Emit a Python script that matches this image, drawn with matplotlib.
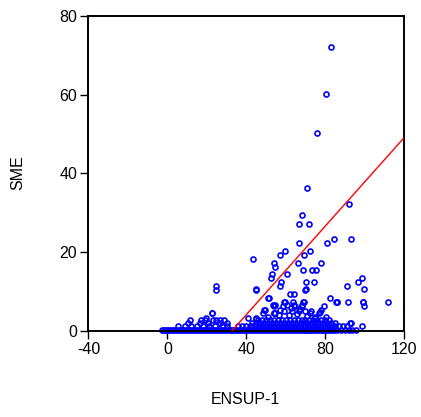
import numpy as np
import matplotlib
matplotlib.use("Agg")
import matplotlib.pyplot as plt

plt.rcParams['font.family'] = ['Liberation Sans', 'DejaVu Sans']
plt.rcParams['axes.unicode_minus'] = False

# ---- points (ENSUP-1, SME) ----
# isolated points, upper part of the cloud
ensup_hi = [82.7, 80.4, 75.9, 71.0, 92.3, 68.0, 66.8, 72.0, 66.9, 81.1, 84.4, 93.3,
            59.6, 57.1, 69.1, 72.5, 43.2, 53.8, 54.8, 66.1, 77.8, 52.9, 52.4, 60.7,
            68.6, 73.5, 75.4, 57.8, 57.3, 70.5, 74.5, 91.1, 96.4, 98.7, 44.8, 70.2,
            99.4, 24.8, 24.8, 44.8, 62.0, 64.2, 70.0]
sme_hi = [72.1, 60.1, 50.2, 36.3, 32.2, 29.4, 27.3, 27.3, 22.4, 22.4, 23.4, 23.4,
          20.4, 19.4, 19.4, 20.4, 18.4, 17.4, 16.3, 17.4, 17.4, 14.4, 13.5, 14.4,
          15.5, 15.5, 15.5, 12.5, 11.4, 12.5, 12.5, 11.4, 12.5, 13.5, 10.7, 10.7,
          10.7, 11.4, 10.4, 10.4, 9.4, 9.4, 10.4]

# middle part (roughly 3 to 9)
ensup_mid = [111.8, 99.2, 91.6, 85.9, 82.3, 86.1, 98.9, 99.7, 85.7, 51.0, 51.3, 40.9,
             44.8, 22.7, 22.4, 48.5, 49.3, 53.6, 54.4, 54.0, 54.0, 59.5, 63.7, 68.8,
             58.6, 64.6, 68.4, 79.4, 78.1, 76.8, 72.2, 74.7, 54.3, 59.0, 60.6, 64.0,
             68.2, 69.0, 49.0, 53.8, 59.1, 63.3, 66.6, 70.0, 19.8, 45.1, 51.0, 56.5,
             61.5, 65.5, 71.0, 75.0, 80.5, 62.5, 57.0, 67.0, 73.0, 77.5]
sme_mid = [7.4, 7.4, 7.4, 7.4, 8.5, 7.3, 7.4, 6.4, 7.3, 8.5, 8.5, 3.4,
           3.4, 4.5, 4.5, 4.5, 5.4, 6.6, 4.5, 6.4, 4.5, 7.3, 7.3, 7.3,
           6.3, 6.3, 6.3, 6.3, 5.3, 4.5, 4.5, 3.6, 6.6, 7.4, 6.6, 6.6,
           6.6, 7.4, 5.3, 4.5, 5.2, 5.2, 5.2, 5.2, 3.2, 3.0, 3.7, 4.2,
           4.0, 4.4, 3.8, 3.4, 3.6, 5.8, 5.4, 5.6, 5.0, 4.8]

# dense band near zero
ensup_low = [-2.6, -1.5, -0.5, 0.5, 1.5, 2.5, 3.5, 4.5, 5.5, 6.5, 7.5, 8.5, 9.5, 10.5,
             11.5, 12.5, 13.5, 14.5, 15.5, 16.5, 17.5, 18.5, 19.5, 20.5, 21.5, 22.5,
             23.5, 24.5, 25.5, 26.5, 27.5, 28.5, 29.5, 30.5, 31.5, 32.5, 33.5, 34.5,
             35.5, 36.5, 37.5, 38.5, 39.5, 40.5, 41.5, 42.5, 43.5, 44.5, 45.5, 46.5,
             47.5, 48.5, 49.5, 50.5, 51.5, 52.5, 53.5, 54.5, 55.5, 56.5, 57.5, 58.5,
             59.5, 60.5, 61.5, 62.5, 63.5, 64.5, 65.5, 66.5, 67.5, 68.5, 69.5, 70.5,
             71.5, 72.5, 73.5, 74.5, 75.5, 76.5, 77.5, 78.5, 79.5, 80.5, 81.5, 82.5,
             83.5, 84.5, 86.0, 88.0, 90.0, 92.0, 93.5, 95.4,
             # second row
             5.4, 9.0, 12.0, 15.0, 18.0, 21.0, 24.0, 27.5, 30.0, 36.0, 38.0, 40.0,
             41.7, 43.0, 44.5, 46.0, 47.5, 49.0, 50.5, 52.0, 53.5, 55.0, 56.5, 58.0,
             59.5, 61.0, 62.5, 64.0, 65.5, 67.0, 68.5, 70.0, 71.5, 73.0, 74.5, 76.0,
             77.5, 79.0, 80.5, 82.0, 83.5, 84.9, 87.0, 89.1, 91.0, 98.4,
             # third row
             10.4, 16.4, 20.6, 26.6, 30.0, 43.0, 45.0, 47.0, 49.0, 51.0, 53.0, 55.0,
             57.0, 59.0, 61.0, 63.0, 65.0, 67.0, 69.0, 71.0, 73.0, 75.0, 77.0, 79.0,
             81.0, 83.0, 85.0, 92.5, 93.0,
             # fourth row
             11.3, 17.3, 19.0, 23.2, 24.9, 26.6, 28.5, 46.0, 48.0, 50.0, 52.0, 54.0,
             56.0, 58.0, 60.0, 62.0, 64.0, 66.0, 68.0, 70.0, 72.0, 74.0, 76.0, 78.0,
             80.0, 82.0]
sme_low = [0.4] * 94 + [1.3] * 46 + [2.0] * 29 + [2.7] * 26

# fitted line (red)
line_x = [32.6, 120.0]
line_y = [0.0, 49.1]

ensup = np.array(ensup_hi + ensup_mid + ensup_low)
sme = np.array(sme_hi + sme_mid + sme_low)

fig = plt.figure(figsize=(4.21, 4.17), dpi=100)
ax = fig.add_axes([0.210, 0.206, 0.750, 0.756])

ax.plot(ensup, sme, linestyle='none', marker='o', markersize=3.6,
        markerfacecolor='none', markeredgecolor='#0000ff', markeredgewidth=1.2,
        clip_on=False, zorder=2)
ax.plot(line_x, line_y, color='#ff0000', linewidth=1.0, zorder=3)

ax.set_xlim(-40, 120)
ax.set_ylim(0, 80)
ax.set_xticks([-40, 0, 40, 80, 120])
ax.set_yticks([0, 20, 40, 60, 80])
ax.tick_params(axis='both', direction='out', length=6, width=1.0,
               labelsize=11.5, pad=2)
for sp in ax.spines.values():
    sp.set_linewidth(1.4)

fig.text(0.043, 0.585, "SME", rotation=90, ha='center', va='center', fontsize=11.5)
fig.text(245 / 421, 1 - 399 / 417, "ENSUP-1", ha='center', va='center', fontsize=11.5)

fig.savefig("out.png", dpi=100)
